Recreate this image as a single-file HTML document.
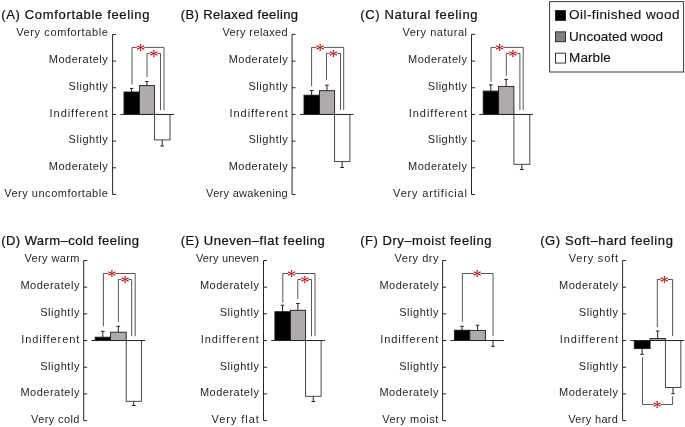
<!DOCTYPE html>
<html lang="en"><head><meta charset="utf-8"><title>Subjective evaluation of wood and marble</title>
<style>html,body{margin:0;padding:0;background:#fff}svg{display:block;will-change:transform}text{font-family:'Liberation Sans', sans-serif;fill:#262626}.l{font-size:11px}.t{font-size:13px;fill:#111;stroke:#111;stroke-width:.22px}.g{font-size:13.5px;fill:#111;stroke:#111;stroke-width:.12px}.s{font-family:"Liberation Serif",serif;font-size:18.5px;fill:#c00000;text-anchor:middle}</style></head><body>
<svg width="685" height="427" viewBox="0 0 685 427">
<rect width="685" height="427" fill="#ffffff"/>
<polyline points="116.10,34.40 112.60,34.40 112.60,194.48 116.10,194.48" fill="none" stroke="#262626" stroke-width="1.0" stroke-linejoin="miter"/>
<line x1="112.60" y1="61.08" x2="116.10" y2="61.08" stroke="#262626" stroke-width="1"/>
<line x1="112.60" y1="87.76" x2="116.10" y2="87.76" stroke="#262626" stroke-width="1"/>
<line x1="112.60" y1="114.44" x2="116.10" y2="114.44" stroke="#262626" stroke-width="1"/>
<line x1="112.60" y1="141.12" x2="116.10" y2="141.12" stroke="#262626" stroke-width="1"/>
<line x1="112.60" y1="167.80" x2="116.10" y2="167.80" stroke="#262626" stroke-width="1"/>
<line x1="131.60" y1="92.00" x2="131.60" y2="88.40" stroke="#222" stroke-width="1"/>
<line x1="129.80" y1="88.40" x2="133.40" y2="88.40" stroke="#222" stroke-width="1"/>
<rect x="124.00" y="92.00" width="15.40" height="22.44" fill="#000000" stroke="#1a1a1a" stroke-width="0.9"/>
<line x1="146.90" y1="85.60" x2="146.90" y2="81.50" stroke="#222" stroke-width="1"/>
<line x1="145.10" y1="81.50" x2="148.70" y2="81.50" stroke="#222" stroke-width="1"/>
<rect x="139.40" y="85.60" width="15.20" height="28.84" fill="#afabab" stroke="#1a1a1a" stroke-width="0.9"/>
<line x1="162.20" y1="139.90" x2="162.20" y2="146.00" stroke="#222" stroke-width="1"/>
<line x1="160.40" y1="146.00" x2="164.00" y2="146.00" stroke="#222" stroke-width="1"/>
<rect x="154.60" y="114.44" width="15.40" height="25.46" fill="#ffffff" stroke="#333" stroke-width="0.9"/>
<line x1="120.40" y1="114.44" x2="174.00" y2="114.44" stroke="#262626" stroke-width="1"/>
<polyline points="132.00,84.60 132.00,47.40 164.00,47.40 164.00,110.14" fill="none" stroke="#3a3a3a" stroke-width="0.85" stroke-linejoin="miter"/>
<polyline points="147.00,77.00 147.00,53.40 160.50,53.40 160.50,110.14" fill="none" stroke="#3a3a3a" stroke-width="0.85" stroke-linejoin="miter"/>
<polyline points="295.56,34.40 292.06,34.40 292.06,194.48 295.56,194.48" fill="none" stroke="#262626" stroke-width="1.0" stroke-linejoin="miter"/>
<line x1="292.06" y1="61.08" x2="295.56" y2="61.08" stroke="#262626" stroke-width="1"/>
<line x1="292.06" y1="87.76" x2="295.56" y2="87.76" stroke="#262626" stroke-width="1"/>
<line x1="292.06" y1="114.44" x2="295.56" y2="114.44" stroke="#262626" stroke-width="1"/>
<line x1="292.06" y1="141.12" x2="295.56" y2="141.12" stroke="#262626" stroke-width="1"/>
<line x1="292.06" y1="167.80" x2="295.56" y2="167.80" stroke="#262626" stroke-width="1"/>
<line x1="311.65" y1="95.20" x2="311.65" y2="90.50" stroke="#222" stroke-width="1"/>
<line x1="309.85" y1="90.50" x2="313.45" y2="90.50" stroke="#222" stroke-width="1"/>
<rect x="304.00" y="95.20" width="15.50" height="19.24" fill="#000000" stroke="#1a1a1a" stroke-width="0.9"/>
<line x1="326.95" y1="90.70" x2="326.95" y2="85.20" stroke="#222" stroke-width="1"/>
<line x1="325.15" y1="85.20" x2="328.75" y2="85.20" stroke="#222" stroke-width="1"/>
<rect x="319.50" y="90.70" width="15.10" height="23.74" fill="#afabab" stroke="#1a1a1a" stroke-width="0.9"/>
<line x1="342.15" y1="161.60" x2="342.15" y2="167.50" stroke="#222" stroke-width="1"/>
<line x1="340.35" y1="167.50" x2="343.95" y2="167.50" stroke="#222" stroke-width="1"/>
<rect x="334.60" y="114.44" width="15.30" height="47.16" fill="#ffffff" stroke="#333" stroke-width="0.9"/>
<line x1="299.86" y1="114.44" x2="353.46" y2="114.44" stroke="#262626" stroke-width="1"/>
<polyline points="311.60,86.40 311.60,47.40 343.70,47.40 343.70,110.14" fill="none" stroke="#3a3a3a" stroke-width="0.85" stroke-linejoin="miter"/>
<polyline points="326.50,80.00 326.50,53.40 340.50,53.40 340.50,110.14" fill="none" stroke="#3a3a3a" stroke-width="0.85" stroke-linejoin="miter"/>
<polyline points="475.00,34.40 471.50,34.40 471.50,194.48 475.00,194.48" fill="none" stroke="#262626" stroke-width="1.0" stroke-linejoin="miter"/>
<line x1="471.50" y1="61.08" x2="475.00" y2="61.08" stroke="#262626" stroke-width="1"/>
<line x1="471.50" y1="87.76" x2="475.00" y2="87.76" stroke="#262626" stroke-width="1"/>
<line x1="471.50" y1="114.44" x2="475.00" y2="114.44" stroke="#262626" stroke-width="1"/>
<line x1="471.50" y1="141.12" x2="475.00" y2="141.12" stroke="#262626" stroke-width="1"/>
<line x1="471.50" y1="167.80" x2="475.00" y2="167.80" stroke="#262626" stroke-width="1"/>
<line x1="490.80" y1="91.10" x2="490.80" y2="84.90" stroke="#222" stroke-width="1"/>
<line x1="489.00" y1="84.90" x2="492.60" y2="84.90" stroke="#222" stroke-width="1"/>
<rect x="483.20" y="91.10" width="15.40" height="23.34" fill="#000000" stroke="#1a1a1a" stroke-width="0.9"/>
<line x1="506.15" y1="86.40" x2="506.15" y2="79.40" stroke="#222" stroke-width="1"/>
<line x1="504.35" y1="79.40" x2="507.95" y2="79.40" stroke="#222" stroke-width="1"/>
<rect x="498.60" y="86.40" width="15.30" height="28.04" fill="#afabab" stroke="#1a1a1a" stroke-width="0.9"/>
<line x1="521.75" y1="164.30" x2="521.75" y2="169.50" stroke="#222" stroke-width="1"/>
<line x1="519.95" y1="169.50" x2="523.55" y2="169.50" stroke="#222" stroke-width="1"/>
<rect x="513.90" y="114.44" width="15.90" height="49.86" fill="#ffffff" stroke="#333" stroke-width="0.9"/>
<line x1="479.30" y1="114.44" x2="532.90" y2="114.44" stroke="#262626" stroke-width="1"/>
<polyline points="491.00,81.70 491.00,47.40 523.20,47.40 523.20,110.14" fill="none" stroke="#3a3a3a" stroke-width="0.85" stroke-linejoin="miter"/>
<polyline points="506.30,75.90 506.30,53.40 519.90,53.40 519.90,110.14" fill="none" stroke="#3a3a3a" stroke-width="0.85" stroke-linejoin="miter"/>
<polyline points="87.20,260.50 83.70,260.50 83.70,420.58 87.20,420.58" fill="none" stroke="#262626" stroke-width="1.0" stroke-linejoin="miter"/>
<line x1="83.70" y1="287.18" x2="87.20" y2="287.18" stroke="#262626" stroke-width="1"/>
<line x1="83.70" y1="313.86" x2="87.20" y2="313.86" stroke="#262626" stroke-width="1"/>
<line x1="83.70" y1="340.54" x2="87.20" y2="340.54" stroke="#262626" stroke-width="1"/>
<line x1="83.70" y1="367.22" x2="87.20" y2="367.22" stroke="#262626" stroke-width="1"/>
<line x1="83.70" y1="393.90" x2="87.20" y2="393.90" stroke="#262626" stroke-width="1"/>
<line x1="102.80" y1="337.20" x2="102.80" y2="331.30" stroke="#222" stroke-width="1"/>
<line x1="101.00" y1="331.30" x2="104.60" y2="331.30" stroke="#222" stroke-width="1"/>
<rect x="95.20" y="337.20" width="15.40" height="3.34" fill="#000000" stroke="#1a1a1a" stroke-width="0.9"/>
<line x1="118.30" y1="332.20" x2="118.30" y2="326.30" stroke="#222" stroke-width="1"/>
<line x1="116.50" y1="326.30" x2="120.10" y2="326.30" stroke="#222" stroke-width="1"/>
<rect x="110.60" y="332.20" width="15.60" height="8.34" fill="#afabab" stroke="#1a1a1a" stroke-width="0.9"/>
<line x1="133.70" y1="401.30" x2="133.70" y2="405.50" stroke="#222" stroke-width="1"/>
<line x1="131.90" y1="405.50" x2="135.50" y2="405.50" stroke="#222" stroke-width="1"/>
<rect x="126.20" y="340.54" width="15.20" height="60.76" fill="#ffffff" stroke="#333" stroke-width="0.9"/>
<line x1="91.50" y1="340.54" x2="145.10" y2="340.54" stroke="#262626" stroke-width="1"/>
<polyline points="103.40,326.30 103.40,273.50 135.20,273.50 135.20,336.24" fill="none" stroke="#3a3a3a" stroke-width="0.85" stroke-linejoin="miter"/>
<polyline points="118.40,321.70 118.40,279.50 131.70,279.50 131.70,336.24" fill="none" stroke="#3a3a3a" stroke-width="0.85" stroke-linejoin="miter"/>
<polyline points="267.00,260.50 263.50,260.50 263.50,420.58 267.00,420.58" fill="none" stroke="#262626" stroke-width="1.0" stroke-linejoin="miter"/>
<line x1="263.50" y1="287.18" x2="267.00" y2="287.18" stroke="#262626" stroke-width="1"/>
<line x1="263.50" y1="313.86" x2="267.00" y2="313.86" stroke="#262626" stroke-width="1"/>
<line x1="263.50" y1="340.54" x2="267.00" y2="340.54" stroke="#262626" stroke-width="1"/>
<line x1="263.50" y1="367.22" x2="267.00" y2="367.22" stroke="#262626" stroke-width="1"/>
<line x1="263.50" y1="393.90" x2="267.00" y2="393.90" stroke="#262626" stroke-width="1"/>
<line x1="282.55" y1="311.70" x2="282.55" y2="305.20" stroke="#222" stroke-width="1"/>
<line x1="280.75" y1="305.20" x2="284.35" y2="305.20" stroke="#222" stroke-width="1"/>
<rect x="274.90" y="311.70" width="15.50" height="28.84" fill="#000000" stroke="#1a1a1a" stroke-width="0.9"/>
<line x1="297.90" y1="310.30" x2="297.90" y2="303.50" stroke="#222" stroke-width="1"/>
<line x1="296.10" y1="303.50" x2="299.70" y2="303.50" stroke="#222" stroke-width="1"/>
<rect x="290.40" y="310.30" width="15.20" height="30.24" fill="#afabab" stroke="#1a1a1a" stroke-width="0.9"/>
<line x1="313.25" y1="396.30" x2="313.25" y2="401.60" stroke="#222" stroke-width="1"/>
<line x1="311.45" y1="401.60" x2="315.05" y2="401.60" stroke="#222" stroke-width="1"/>
<rect x="305.60" y="340.54" width="15.50" height="55.76" fill="#ffffff" stroke="#333" stroke-width="0.9"/>
<line x1="271.30" y1="340.54" x2="324.90" y2="340.54" stroke="#262626" stroke-width="1"/>
<polyline points="282.80,302.60 282.80,273.50 315.00,273.50 315.00,336.24" fill="none" stroke="#3a3a3a" stroke-width="0.85" stroke-linejoin="miter"/>
<polyline points="297.80,298.80 297.80,279.50 311.50,279.50 311.50,336.24" fill="none" stroke="#3a3a3a" stroke-width="0.85" stroke-linejoin="miter"/>
<polyline points="446.10,260.50 442.60,260.50 442.60,420.58 446.10,420.58" fill="none" stroke="#262626" stroke-width="1.0" stroke-linejoin="miter"/>
<line x1="442.60" y1="287.18" x2="446.10" y2="287.18" stroke="#262626" stroke-width="1"/>
<line x1="442.60" y1="313.86" x2="446.10" y2="313.86" stroke="#262626" stroke-width="1"/>
<line x1="442.60" y1="340.54" x2="446.10" y2="340.54" stroke="#262626" stroke-width="1"/>
<line x1="442.60" y1="367.22" x2="446.10" y2="367.22" stroke="#262626" stroke-width="1"/>
<line x1="442.60" y1="393.90" x2="446.10" y2="393.90" stroke="#262626" stroke-width="1"/>
<line x1="462.00" y1="330.20" x2="462.00" y2="326.30" stroke="#222" stroke-width="1"/>
<line x1="460.20" y1="326.30" x2="463.80" y2="326.30" stroke="#222" stroke-width="1"/>
<rect x="454.40" y="330.20" width="15.40" height="10.34" fill="#000000" stroke="#1a1a1a" stroke-width="0.9"/>
<line x1="477.50" y1="330.40" x2="477.50" y2="325.20" stroke="#222" stroke-width="1"/>
<line x1="475.70" y1="325.20" x2="479.30" y2="325.20" stroke="#222" stroke-width="1"/>
<rect x="469.80" y="330.40" width="15.60" height="10.14" fill="#afabab" stroke="#1a1a1a" stroke-width="0.9"/>
<line x1="493.00" y1="340.60" x2="493.00" y2="346.30" stroke="#222" stroke-width="1"/>
<line x1="491.20" y1="346.30" x2="494.80" y2="346.30" stroke="#222" stroke-width="1"/>
<line x1="450.40" y1="340.54" x2="504.00" y2="340.54" stroke="#262626" stroke-width="1"/>
<polyline points="462.40,321.70 462.40,273.50 493.10,273.50 493.10,335.94" fill="none" stroke="#3a3a3a" stroke-width="0.85" stroke-linejoin="miter"/>
<polyline points="626.10,260.50 622.60,260.50 622.60,420.58 626.10,420.58" fill="none" stroke="#262626" stroke-width="1.0" stroke-linejoin="miter"/>
<line x1="622.60" y1="287.18" x2="626.10" y2="287.18" stroke="#262626" stroke-width="1"/>
<line x1="622.60" y1="313.86" x2="626.10" y2="313.86" stroke="#262626" stroke-width="1"/>
<line x1="622.60" y1="340.54" x2="626.10" y2="340.54" stroke="#262626" stroke-width="1"/>
<line x1="622.60" y1="367.22" x2="626.10" y2="367.22" stroke="#262626" stroke-width="1"/>
<line x1="622.60" y1="393.90" x2="626.10" y2="393.90" stroke="#262626" stroke-width="1"/>
<line x1="642.10" y1="348.60" x2="642.10" y2="354.30" stroke="#222" stroke-width="1"/>
<line x1="640.30" y1="354.30" x2="643.90" y2="354.30" stroke="#222" stroke-width="1"/>
<rect x="634.30" y="340.54" width="15.80" height="8.06" fill="#000000" stroke="#1a1a1a" stroke-width="0.9"/>
<line x1="657.65" y1="338.50" x2="657.65" y2="331.00" stroke="#222" stroke-width="1"/>
<line x1="655.85" y1="331.00" x2="659.45" y2="331.00" stroke="#222" stroke-width="1"/>
<rect x="650.10" y="338.50" width="15.30" height="2.04" fill="#afabab" stroke="#1a1a1a" stroke-width="0.9"/>
<line x1="673.02" y1="387.50" x2="673.02" y2="393.70" stroke="#222" stroke-width="1"/>
<line x1="671.23" y1="393.70" x2="674.82" y2="393.70" stroke="#222" stroke-width="1"/>
<rect x="665.40" y="340.54" width="15.45" height="46.96" fill="#ffffff" stroke="#333" stroke-width="0.9"/>
<line x1="630.40" y1="340.54" x2="684.00" y2="340.54" stroke="#262626" stroke-width="1"/>
<polyline points="657.30,327.00 657.30,279.50 672.60,279.50 672.60,336.14" fill="none" stroke="#3a3a3a" stroke-width="0.85" stroke-linejoin="miter"/>
<polyline points="642.50,356.80 642.50,404.50 672.60,404.50 672.60,396.30" fill="none" stroke="#3a3a3a" stroke-width="0.85" stroke-linejoin="miter"/>
<rect x="549.60" y="1.60" width="134.00" height="70.40" fill="#ffffff" stroke="#3a3a3a" stroke-width="1"/>
<rect x="555.45" y="10.55" width="10.10" height="9.90" fill="#000000" stroke="#222" stroke-width="0.9"/>
<rect x="555.45" y="31.85" width="10.10" height="9.90" fill="#808080" stroke="#222" stroke-width="0.9"/>
<rect x="555.45" y="53.15" width="10.10" height="9.90" fill="#ffffff" stroke="#222" stroke-width="0.9"/>
<rect x="137.10" y="43.90" width="7.2" height="7" fill="#fff"/>
<text class="s" x="140.70" y="56.90">*</text>
<rect x="150.30" y="49.90" width="7.2" height="7" fill="#fff"/>
<text class="s" x="153.90" y="62.90">*</text>
<rect x="316.56" y="43.90" width="7.2" height="7" fill="#fff"/>
<text class="s" x="320.16" y="56.90">*</text>
<rect x="329.76" y="49.90" width="7.2" height="7" fill="#fff"/>
<text class="s" x="333.36" y="62.90">*</text>
<rect x="496.00" y="43.90" width="7.2" height="7" fill="#fff"/>
<text class="s" x="499.60" y="56.90">*</text>
<rect x="509.20" y="49.90" width="7.2" height="7" fill="#fff"/>
<text class="s" x="512.80" y="62.90">*</text>
<rect x="108.20" y="270.00" width="7.2" height="7" fill="#fff"/>
<text class="s" x="111.80" y="283.00">*</text>
<rect x="121.40" y="276.00" width="7.2" height="7" fill="#fff"/>
<text class="s" x="125.00" y="289.00">*</text>
<rect x="288.00" y="270.00" width="7.2" height="7" fill="#fff"/>
<text class="s" x="291.60" y="283.00">*</text>
<rect x="301.20" y="276.00" width="7.2" height="7" fill="#fff"/>
<text class="s" x="304.80" y="289.00">*</text>
<rect x="473.60" y="270.00" width="7.2" height="7" fill="#fff"/>
<text class="s" x="477.20" y="283.00">*</text>
<rect x="660.80" y="276.00" width="7.2" height="7" fill="#fff"/>
<text class="s" x="664.40" y="289.00">*</text>
<rect x="653.50" y="401.10" width="7.2" height="7" fill="#fff"/>
<text class="s" x="657.10" y="414.10">*</text>
<text class="l" x="16.30" y="36.30" letter-spacing="0.597">Very comfortable</text>
<text class="l" x="48.80" y="63.38" letter-spacing="0.509">Moderately</text>
<text class="l" x="68.60" y="90.06" letter-spacing="0.534">Slightly</text>
<text class="l" x="49.60" y="116.74" letter-spacing="0.948">Indifferent</text>
<text class="l" x="68.60" y="143.42" letter-spacing="0.534">Slightly</text>
<text class="l" x="48.80" y="170.10" letter-spacing="0.509">Moderately</text>
<text class="l" x="4.20" y="196.78" letter-spacing="0.519">Very uncomfortable</text>
<text class="t" x="1.20" y="19.00" letter-spacing="0.665">(A) Comfortable feeling</text>
<text class="l" x="222.40" y="36.30" letter-spacing="0.378">Very relaxed</text>
<text class="l" x="228.70" y="63.38" letter-spacing="0.509">Moderately</text>
<text class="l" x="248.50" y="90.06" letter-spacing="0.534">Slightly</text>
<text class="l" x="229.50" y="116.74" letter-spacing="0.948">Indifferent</text>
<text class="l" x="248.50" y="143.42" letter-spacing="0.534">Slightly</text>
<text class="l" x="228.70" y="170.10" letter-spacing="0.509">Moderately</text>
<text class="l" x="206.10" y="196.78" letter-spacing="0.303">Very awakening</text>
<text class="t" x="180.70" y="19.00" letter-spacing="0.375">(B) Relaxed feeling</text>
<text class="l" x="402.40" y="36.30" letter-spacing="0.536">Very natural</text>
<text class="l" x="408.00" y="63.38" letter-spacing="0.509">Moderately</text>
<text class="l" x="427.80" y="90.06" letter-spacing="0.534">Slightly</text>
<text class="l" x="408.80" y="116.74" letter-spacing="0.948">Indifferent</text>
<text class="l" x="427.80" y="143.42" letter-spacing="0.534">Slightly</text>
<text class="l" x="408.00" y="170.10" letter-spacing="0.509">Moderately</text>
<text class="l" x="393.10" y="196.78" letter-spacing="0.825">Very artificial</text>
<text class="t" x="360.30" y="19.00" letter-spacing="0.651">(C) Natural feeling</text>
<text class="l" x="24.50" y="262.40" letter-spacing="0.368">Very warm</text>
<text class="l" x="20.40" y="289.48" letter-spacing="0.509">Moderately</text>
<text class="l" x="40.20" y="316.16" letter-spacing="0.534">Slightly</text>
<text class="l" x="21.20" y="342.84" letter-spacing="0.948">Indifferent</text>
<text class="l" x="40.20" y="369.52" letter-spacing="0.534">Slightly</text>
<text class="l" x="20.40" y="396.20" letter-spacing="0.509">Moderately</text>
<text class="l" x="31.10" y="422.88" letter-spacing="0.382">Very cold</text>
<text class="t" x="1.20" y="245.10" letter-spacing="0.448">(D) Warm–cold feeling</text>
<text class="l" x="195.90" y="262.40" letter-spacing="0.184">Very uneven</text>
<text class="l" x="199.90" y="289.48" letter-spacing="0.509">Moderately</text>
<text class="l" x="219.70" y="316.16" letter-spacing="0.534">Slightly</text>
<text class="l" x="200.70" y="342.84" letter-spacing="0.948">Indifferent</text>
<text class="l" x="219.70" y="369.52" letter-spacing="0.534">Slightly</text>
<text class="l" x="199.90" y="396.20" letter-spacing="0.509">Moderately</text>
<text class="l" x="211.50" y="422.88" letter-spacing="0.957">Very flat</text>
<text class="t" x="180.70" y="245.10" letter-spacing="0.539">(E) Uneven–flat feeling</text>
<text class="l" x="394.60" y="262.40" letter-spacing="0.493">Very dry</text>
<text class="l" x="379.40" y="289.48" letter-spacing="0.509">Moderately</text>
<text class="l" x="399.20" y="316.16" letter-spacing="0.534">Slightly</text>
<text class="l" x="380.20" y="342.84" letter-spacing="0.948">Indifferent</text>
<text class="l" x="399.20" y="369.52" letter-spacing="0.534">Slightly</text>
<text class="l" x="379.40" y="396.20" letter-spacing="0.509">Moderately</text>
<text class="l" x="382.20" y="422.88" letter-spacing="0.539">Very moist</text>
<text class="t" x="360.20" y="245.10" letter-spacing="0.533">(F) Dry–moist feeling</text>
<text class="l" x="568.70" y="262.40" letter-spacing="0.813">Very soft</text>
<text class="l" x="559.00" y="289.48" letter-spacing="0.509">Moderately</text>
<text class="l" x="578.80" y="316.16" letter-spacing="0.534">Slightly</text>
<text class="l" x="559.80" y="342.84" letter-spacing="0.948">Indifferent</text>
<text class="l" x="578.80" y="369.52" letter-spacing="0.534">Slightly</text>
<text class="l" x="559.00" y="396.20" letter-spacing="0.509">Moderately</text>
<text class="l" x="568.20" y="422.88" letter-spacing="0.340">Very hard</text>
<text class="t" x="540.20" y="245.10" letter-spacing="0.601">(G) Soft–hard feeling</text>
<text class="g" x="569.10" y="19.30" letter-spacing="0.428">Oil-finished wood</text>
<text class="g" x="569.10" y="40.60" letter-spacing="0.015">Uncoated wood</text>
<text class="g" x="569.10" y="61.90" letter-spacing="0.087">Marble</text>
</svg></body></html>
